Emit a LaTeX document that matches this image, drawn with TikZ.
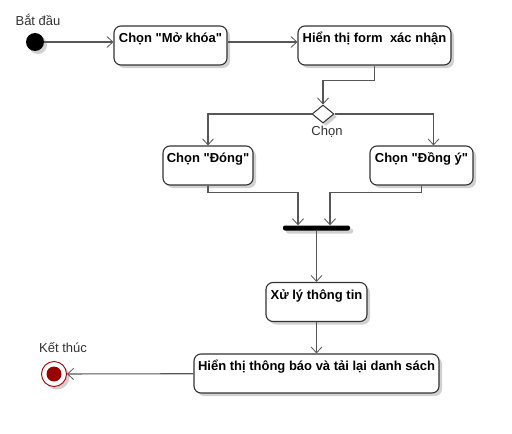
\documentclass[tikz,border=0pt]{standalone}
\usepackage{fontspec}
\newfontfamily\diagfont{Liberation Sans}
\usetikzlibrary{arrows.meta,shadows,shapes.geometric}
\definecolor{linegray}{HTML}{575757}
\definecolor{boxline}{HTML}{333333}
\definecolor{endred}{HTML}{B20000}
\definecolor{endfill}{HTML}{990000}
\tikzset{
	softshadow/.style={drop shadow={shadow xshift=3pt,shadow yshift=-3pt,opacity=0.18,fill=black}},
	act/.style={draw=boxline,line width=1.1pt,fill=white,rounded corners=7pt,softshadow,
		minimum height=39pt,text height=9pt,text depth=15pt,inner xsep=2pt,
		font=\diagfont\fontsize{13}{15}\selectfont\bfseries},
	flow/.style={draw=linegray,line width=1.1pt,-{Straight Barb[length=6pt,width=11pt,line width=0.8pt]}},
	note/.style={font=\diagfont\fontsize{13}{15}\selectfont,text=boxline,inner sep=0pt}
}
\begin{document}
\begin{tikzpicture}[x=1pt,y=-1pt]
				\useasboundingbox[fill=white] (0,0) rectangle (512,434);
				
				\node[circle,fill=black,minimum size=18pt,inner sep=0pt,softshadow] (start) at (35,42) {};
				\node[note] (startlbl) at (38,20) {Bắt đầu};
				
				\node[act,minimum width=113pt] (open) at (170.5,45.5) {Chọn "Mở khóa"};
				\node[act,minimum width=153pt] (form) at (374.5,45.5) {Hiển thị form~ xác nhận};
				
				\node[diamond,draw=boxline,line width=1pt,fill=white,minimum width=22pt,minimum height=18pt,inner sep=0pt,softshadow] (choice) at (323,114) {};
				\node[note] (choicelbl) at (327,132) {Chọn};
				
				\node[act,minimum width=90pt] (close) at (208,165.5) {Chọn "Đóng"};
				\node[act,minimum width=103pt] (agree) at (421.5,165.5) {Chọn "Đồng ý"};
				
				\node[rectangle,fill=black,rounded corners=2pt,minimum width=67pt,minimum height=5pt,inner sep=0pt,softshadow] (bar) at (316.5,228) {};
				
				\node[act,minimum width=101pt] (handle) at (316.5,302) {Xử lý thông tin};
				\node[act,minimum width=245pt] (reload) at (316.5,373.5) {Hiển thị thông báo và tải lại danh sách};
				
				\node[circle,draw=endred,line width=0.9pt,fill=white,minimum size=25pt,inner sep=0pt,softshadow,
					path picture={\fill[endfill] (path picture bounding box.center) circle (7.5pt);}] (stop) at (54,374) {};
				\node[note] (stoplbl) at (63,348) {Kết thúc};
				
				\draw[flow] (start) -- (start -| open.west);
				\draw[flow] ([yshift=3.5pt]open.east) -- ([yshift=3.5pt]form.west);
				\draw[flow] (form.south) -- ++(0,15) -| (choice.north);
				\draw[flow] (choice.west) -| (close.north);
				\draw[flow] (choice.east) -| ([xshift=12pt]agree.north);
				\draw[flow] (close.south) -- ++(0,7) -| ([xshift=-18.5pt]bar.north);
				\draw[flow] (agree.south) -- ++(0,7) -| ([xshift=13.5pt]bar.north);
				\draw[flow] (bar) -- (handle);
				\draw[flow] (handle) -- (reload);
				\draw[flow] (reload) -- (stop);
				\end{tikzpicture}
\end{document}
